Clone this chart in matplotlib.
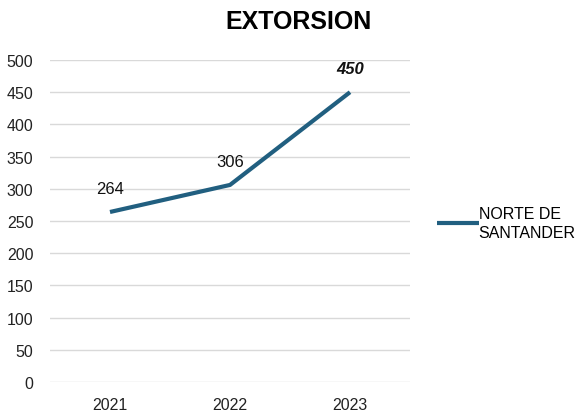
import matplotlib.pyplot as plt

plt.rcParams['font.family'] = ['Liberation Sans', 'DejaVu Sans']

years = ['2021', '2022', '2023']
values = [264, 306, 450]
series_name = 'NORTE DE\nSANTANDER'
yticks = [0, 50, 100, 150, 200, 250, 300, 350, 400, 450, 500]

line_color = '#215f80'

fig = plt.figure(figsize=(5.82, 4.14), dpi=100)
ax = fig.add_axes([50/582, 1-383/414, 360/582, 322/414])

x = range(len(years))
ax.plot(x, values, color=line_color, lw=3, solid_capstyle='butt', label=series_name)

for i, v in enumerate(values):
    last = i == len(values) - 1
    ax.annotate(str(v), (i, v), xytext=(0, 17), textcoords='offset points',
                ha='center', va='center', fontsize=12,
                fontweight='bold' if last else 'normal',
                fontstyle='italic' if last else 'normal', color='#111111')

ax.set_xlim(-0.5, len(years) - 0.5)
ax.set_ylim(0, 500)
ax.set_xticks(list(x))
ax.set_xticklabels(years)
ax.set_yticks(yticks)
ax.yaxis.grid(True, color='#d9d9d9', lw=1)
ax.set_axisbelow(True)
for s in ax.spines.values():
    s.set_visible(False)
ax.tick_params(axis='both', length=0, labelsize=11.5, colors='#222222')
ax.tick_params(axis='x', pad=11)
ax.tick_params(axis='y', pad=12)

fig.suptitle('EXTORSION', x=0.513, y=0.975, fontsize=18, fontweight='bold')

leg = ax.legend(loc='center left', bbox_to_anchor=(1.075, 0.495), frameon=False,
                fontsize=11.5, handlelength=2.6, handletextpad=0.0,
                labelspacing=0.1, borderpad=0, borderaxespad=0)
for t in leg.get_texts():
    t.set_linespacing(1.35)

fig.savefig('out.png', dpi=100)
